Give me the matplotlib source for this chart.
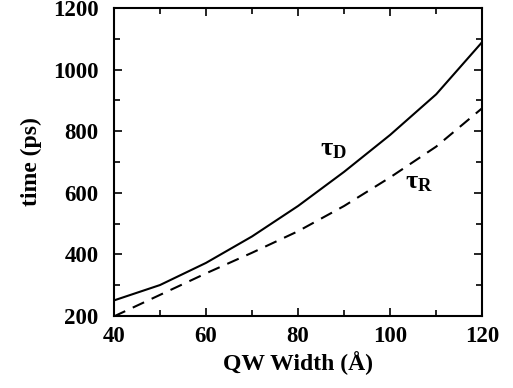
import matplotlib
matplotlib.use("Agg")
import matplotlib.pyplot as plt
from matplotlib.ticker import MultipleLocator

plt.rcParams['font.family'] = ['Liberation Serif', 'DejaVu Serif']
plt.rcParams['font.weight'] = 'bold'
plt.rcParams['mathtext.fontset'] = 'custom'
plt.rcParams['mathtext.rm'] = 'Liberation Serif'
plt.rcParams['mathtext.it'] = 'Liberation Serif:italic'
plt.rcParams['mathtext.bf'] = 'Liberation Serif:bold'

# Datos
ancho_qw = [40, 50, 60, 70, 80, 90, 100, 110, 120]
tau_d = [250, 300, 372, 458, 557, 668, 788, 920, 1090]
tau_r = [198, 268, 338, 405, 475, 557, 650, 750, 875]

fig = plt.figure(figsize=(5.13, 3.88), dpi=100)
ax = fig.add_axes([0.222, 0.186, 0.718, 0.793])

ax.plot(ancho_qw, tau_d, color='black', lw=1.5, ls='-')
ax.plot(ancho_qw, tau_r, color='black', lw=1.5, ls=(0, (6, 4)))

# Etiquetas de las curvas
ax.text(84.8, 720, r'$\mathrm{\tau}_\mathbf{D}$', fontsize=19)
ax.text(103.2, 615, r'$\mathrm{\tau}_\mathbf{R}$', fontsize=19)

ax.set_xlim(40, 120)
ax.set_ylim(200, 1200)
ax.xaxis.set_major_locator(MultipleLocator(20))
ax.xaxis.set_minor_locator(MultipleLocator(10))
ax.yaxis.set_major_locator(MultipleLocator(200))
ax.yaxis.set_minor_locator(MultipleLocator(100))
ax.tick_params(which='both', direction='in', top=True, right=True,
               labelsize=16.5, width=1.2)
ax.tick_params(axis='y', pad=11)
ax.tick_params(axis='x', pad=7)
ax.tick_params(which='major', length=6)
ax.tick_params(which='minor', length=4)
for lab in ax.get_xticklabels() + ax.get_yticklabels():
    lab.set_fontweight('bold')
for s in ax.spines.values():
    s.set_linewidth(1.5)

ax.set_xlabel('QW Width (Å)', fontsize=17, fontweight='bold', labelpad=3)
ax.set_ylabel('time (ps)', fontsize=17, fontweight='bold', labelpad=8)

fig.savefig('out.png', dpi=100)
